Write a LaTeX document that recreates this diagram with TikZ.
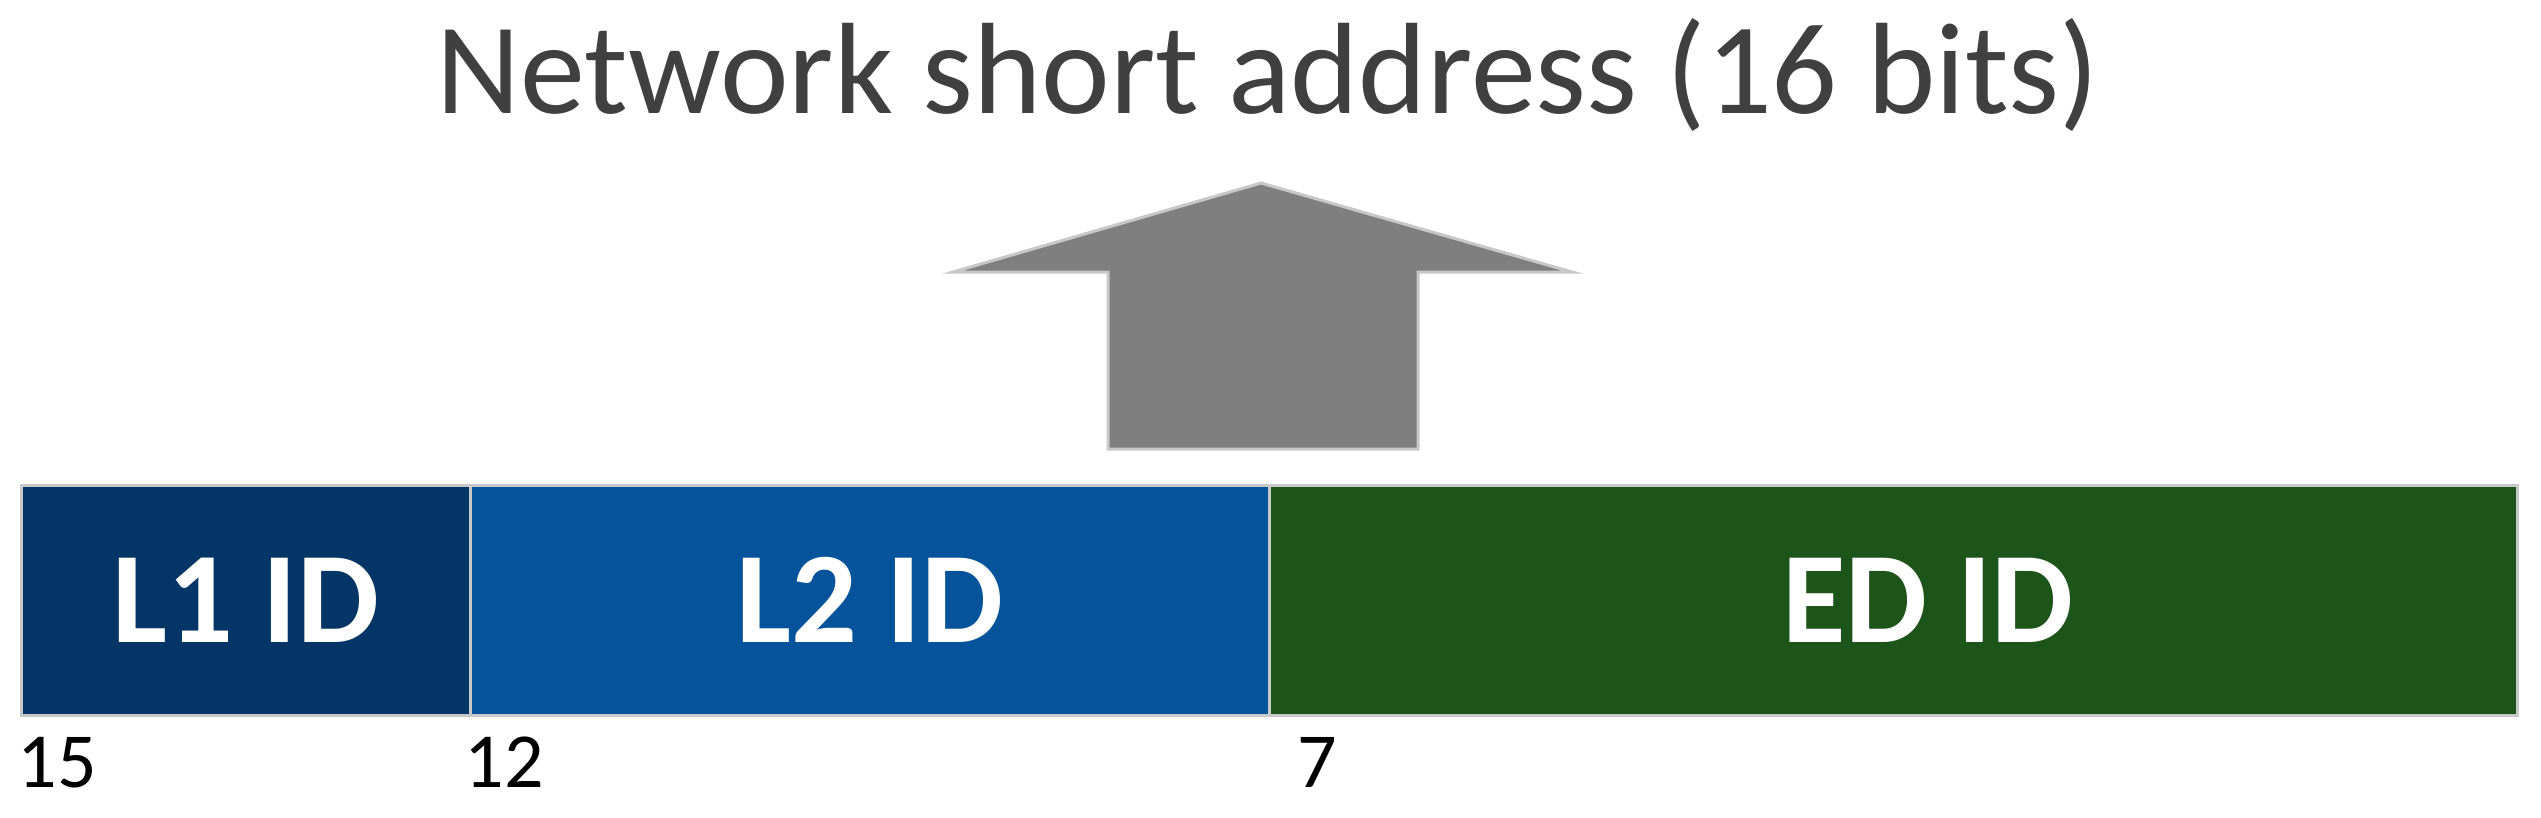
\documentclass[tikz,border=0pt]{standalone}
\usepackage{fontspec}
\setmainfont{Carlito}
\usetikzlibrary{positioning}
\definecolor{lonecol}{RGB}{3,54,102}
\definecolor{ltwocol}{RGB}{4,83,155}
\definecolor{edcol}{RGB}{29,84,25}
\definecolor{rimcol}{RGB}{200,200,200}
\definecolor{titlecol}{RGB}{64,64,64}
\definecolor{arrowcol}{RGB}{127,127,127}

\begin{document}
\begin{tikzpicture}[x=0.25pt, y=-0.25pt, field/.style={
						rectangle,
						draw=rimcol, line width=0.75pt,
						minimum height=57.5pt,
						inner sep=0pt, outer sep=0pt,
						text=white,
						font=\fontsize{32.5}{36}\selectfont\bfseries,
					}, bitno/.style={anchor=base west, inner sep=0pt, font=\fontsize{19.5}{22}\selectfont},]
					\useasboundingbox (0,0) rectangle (2541,817);
					\node[anchor=base, text=titlecol, font=\fontsize{32.5}{38}\selectfont] (title) at (1268,113) {Network short address (16 bits)};
					
					\node[field, fill=lonecol, anchor=north west, minimum width=112.25pt] (L1) at (21,485) {L1 ID};
					\node[field, fill=ltwocol, right=0pt of L1, minimum width=199.75pt] (L2) {L2 ID};
					\node[field, fill=edcol, right=0pt of L2, minimum width=312pt] (ED) {\hspace*{17.5pt}ED ID};
					
					\node[bitno] (b15) at ([xshift=-1pt,yshift=-18pt]L1.south west) {15};
					\node[bitno] (b12) at ([xshift=-1.5pt,yshift=-18pt]L2.south west) {12};
					\node[bitno] (b7) at ([xshift=7pt,yshift=-18pt]ED.south west) {7};
					
					% big arrow pointing up to the title
					\filldraw[fill=arrowcol, draw=rimcol, line width=0.75pt] (1261,183) -- (1572,272) -- (1418,272) -- (1418,449)
					-- (1108,449) -- (1108,272) -- (953,272) -- cycle;
					\end{tikzpicture}
\end{document}
